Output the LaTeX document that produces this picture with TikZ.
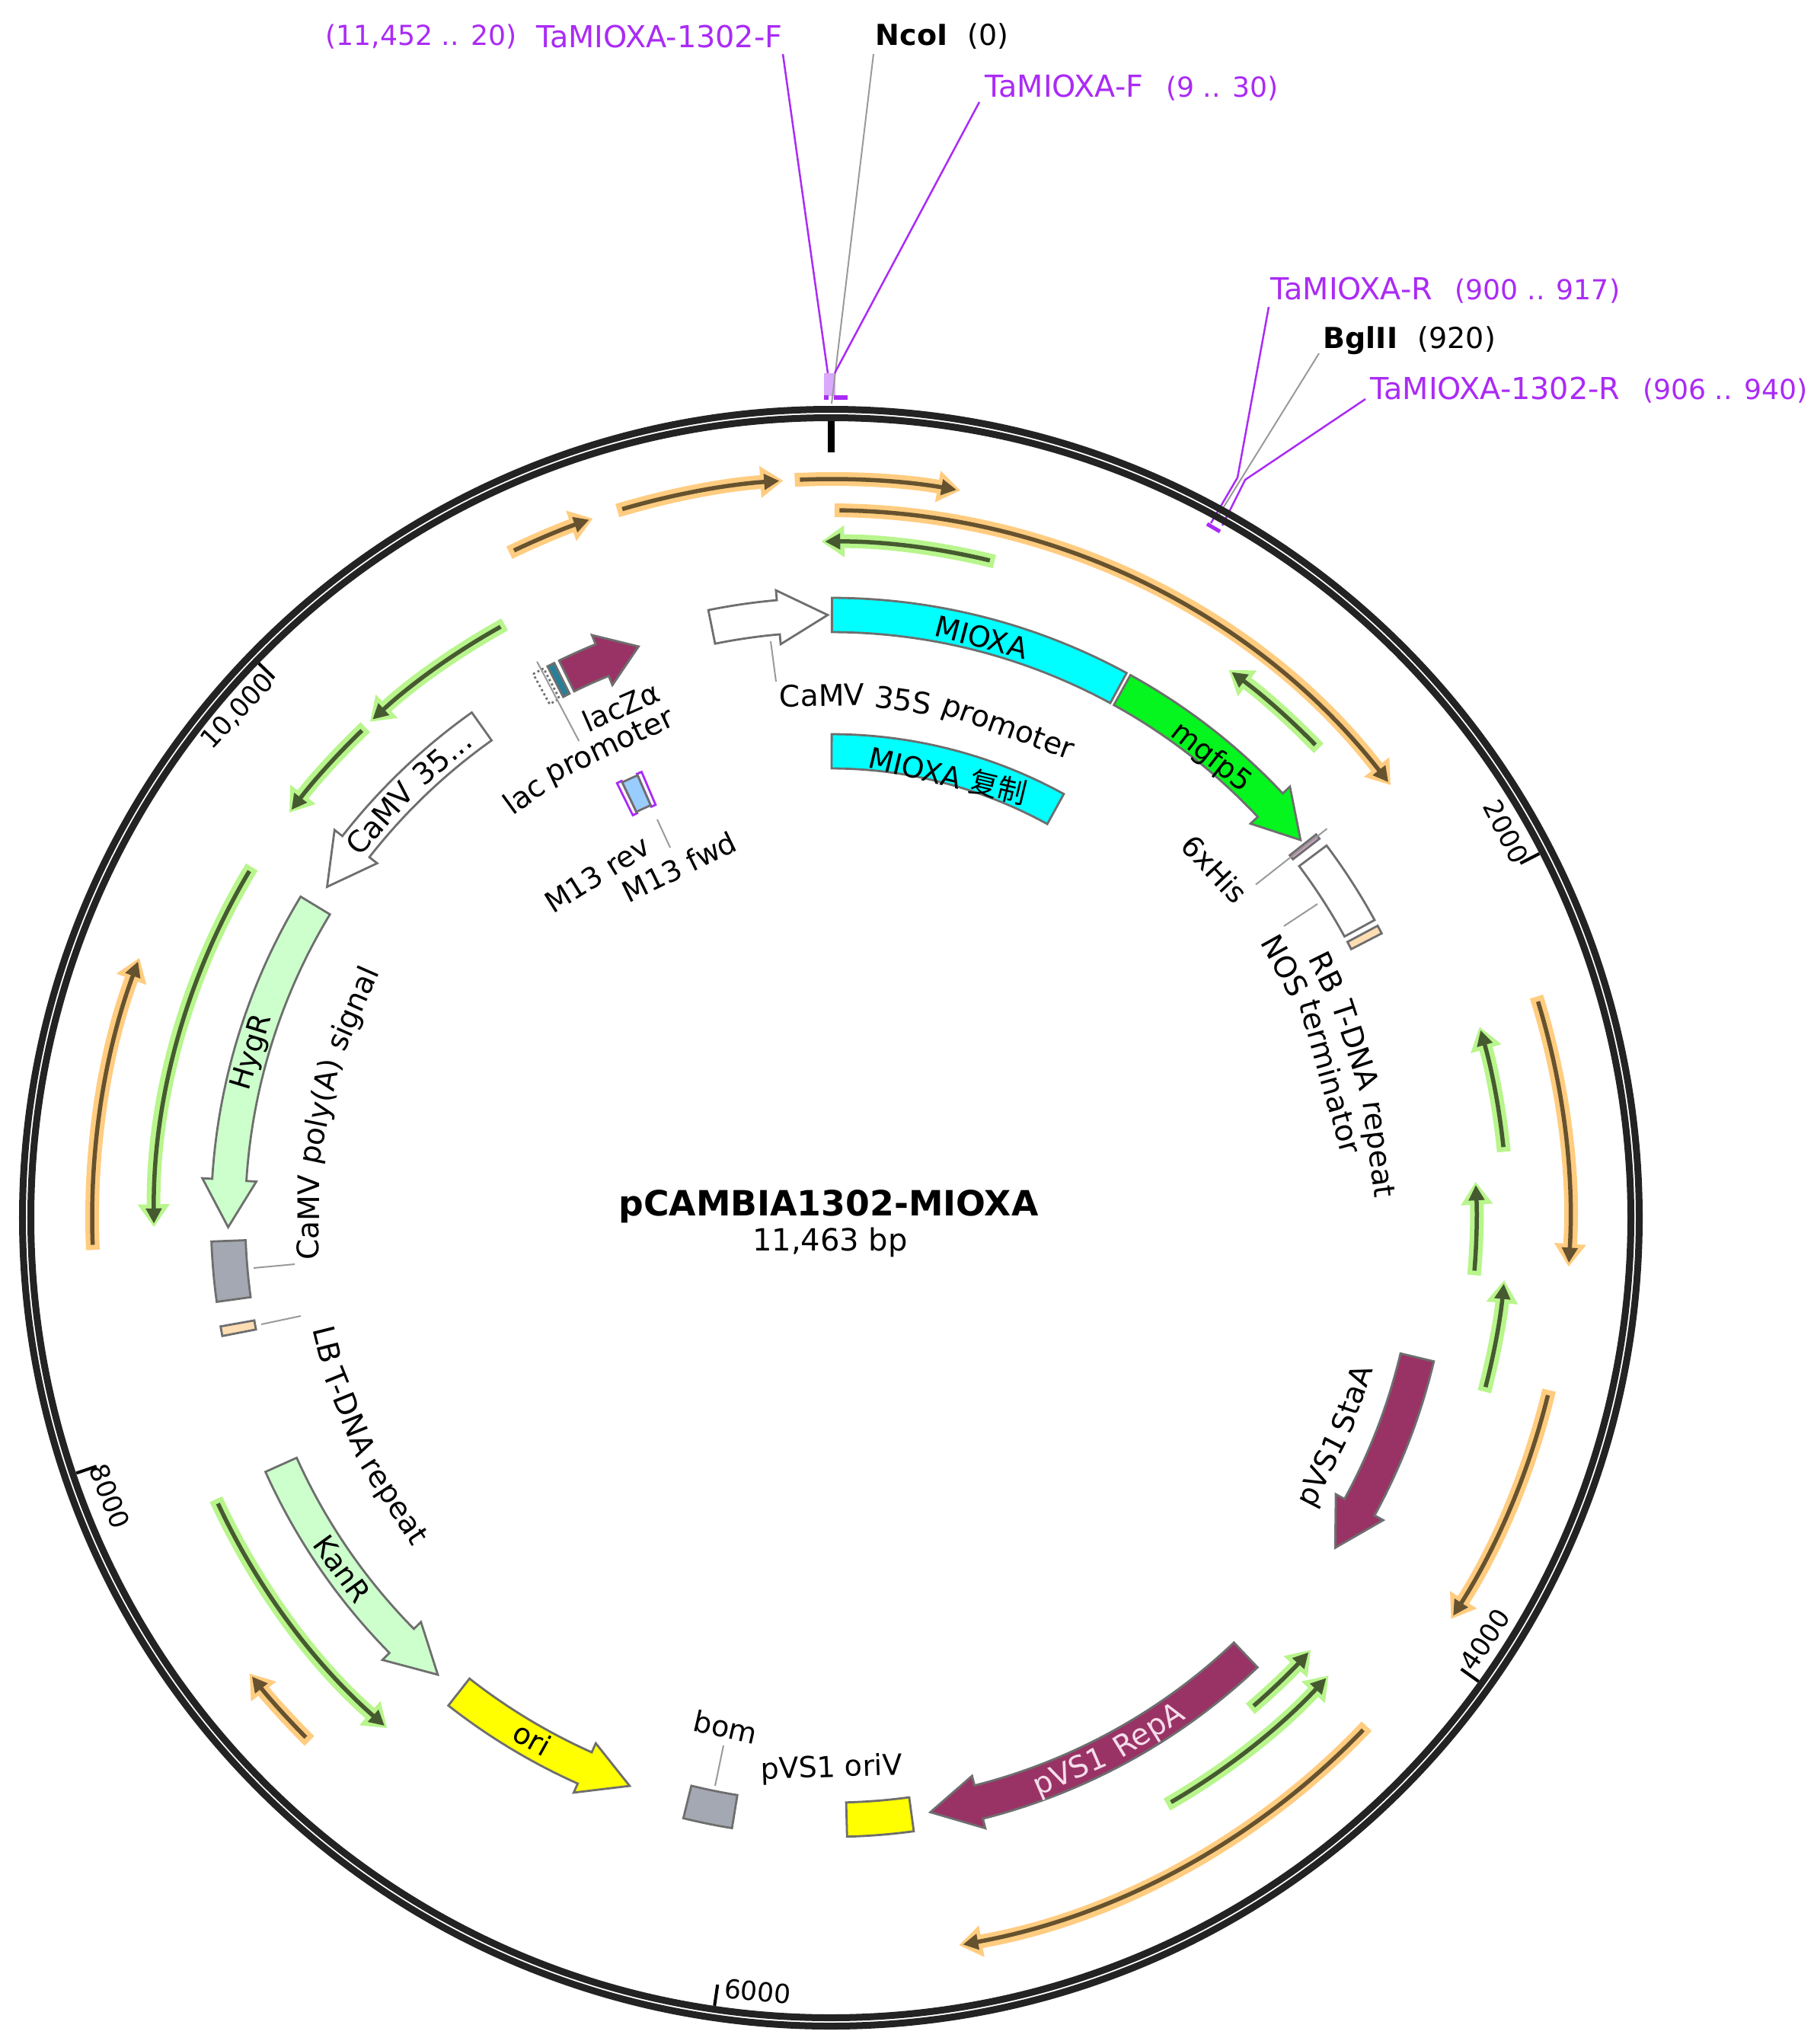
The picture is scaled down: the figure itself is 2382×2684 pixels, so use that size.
\documentclass[tikz,border=0pt]{standalone}
\usepackage{fontspec}
\setmainfont{DejaVu Sans}
\newfontfamily\cjkfont{Noto Sans CJK SC}
\usetikzlibrary{arrows.meta}
\definecolor{ringcol}{HTML}{232323}
\definecolor{primpur}{HTML}{AA2BF5}
\definecolor{primlight}{HTML}{D9A9FB}
\definecolor{leadcol}{HTML}{9A9A9A}
\definecolor{edgecol}{HTML}{6E6E6E}
\definecolor{cyancol}{HTML}{00FFFF}
\definecolor{gfpcol}{HTML}{05F51E}
\definecolor{maroon}{HTML}{993366}
\definecolor{mintcol}{HTML}{CCFFCC}
\definecolor{yelcol}{HTML}{FFFF00}
\definecolor{slatecol}{HTML}{A3A8B2}
\definecolor{tancol}{HTML}{FFDDB3}
\definecolor{m13col}{HTML}{99CCFF}
\definecolor{tealcol}{HTML}{26809A}
\definecolor{pinkcol}{HTML}{D9A0C8}
\definecolor{goldhal}{HTML}{FFCC80}
\definecolor{goldcor}{HTML}{66522E}
\definecolor{greenhal}{HTML}{B8F58C}
\definecolor{greencor}{HTML}{465A30}
\definecolor{repatxt}{HTML}{F5DDEA}
\def\lblfont{\fontsize{10.8}{13}\selectfont}
\def\arcfont{\fontsize{11.1}{13}\selectfont}
\def\namefont{\fontsize{11.3}{13}\selectfont}
\def\posfont{\fontsize{10.3}{13}\selectfont}
\def\featbox[#1](#2:#3)(#4:#5){\draw[#1] ({90-#4}:#3) arc ({90-#4}:{90-#5}:#3) -- ({90-#5}:#2) arc ({90-#5}:{90-#4}:#2) -- cycle;}
\def\featarrow[#1](#2:#3)(#4:#5:#6){\draw[#1] ({90-#4}:#3) arc ({90-#4}:{90-#5}:#3) -- ({90-#5}:{#3+13}) -- ({90-#6}:{(#2+#3)/2}) -- ({90-#5}:{#2-13}) -- ({90-#5}:#2) arc ({90-#5}:{90-#4}:#2) -- cycle;}
\def\orfarc[#1](#2)(#3:#4){\pgfmathsetmacro\orfsg{(#4>#3)?1:-1}\pgfmathsetmacro\orfa{90-#3-0.4*\orfsg}\pgfmathsetmacro\orfb{90-#4+0.3*\orfsg}
	\draw[orfhalo=#1] ({90-#3}:#2) arc ({90-#3}:{90-#4}:#2);
	\draw[orfcore=#1] (\orfa:#2) arc (\orfa:\orfb:#2);}
\def\wordcw[#1](#2)(#3:#4)#5{\node[lbl,font=\arcfont,anchor=base,rotate={0-#4},#1] (#2) at ({90-#4}:#3) {#5};}
\def\wordccw[#1](#2)(#3:#4)#5{\node[lbl,font=\arcfont,anchor=base,rotate={180-#4},#1] (#2) at ({90-#4}:#3) {#5};}
\tikzset{
	orfhalo/.style={draw=#1hal,line width=0.18cm,-{Triangle[length=0.3cm,width=0.4cm]}},
	orfcore/.style={draw=#1cor,line width=0.055cm,-{Triangle[length=0.2cm,width=0.2cm]}},
	feat/.style={draw=edgecol,line width=0.028cm,line join=miter,fill=#1},
	lbl/.style={font=\lblfont,inner sep=0pt},
	numlbl/.style={font=\fontsize{9.8}{12}\selectfont,inner sep=0pt},
	primlbl/.style={inner sep=0pt,text=primpur,anchor=west},
	sitelbl/.style={inner sep=0pt,anchor=west},
	leader/.style={draw=leadcol,line width=0.02cm},
	primline/.style={draw=primpur,line width=0.025cm},
	ticksty/.style={draw=black,line width=0.04cm}
}
\begin{document}
\begin{tikzpicture}[x=0.01cm,y=0.01cm]
			%%%%% START %%%%%
			\useasboundingbox (0,0) rectangle (2382,-2684);
			
			\node[primlbl,anchor=east,font=\posfont] (primFcoord) at (679,-48) {(11,452 .. 20)};
			\node[primlbl,anchor=east,font=\namefont] (primF) at (1028,-48) {TaMIOXA-1302-F};
			\node[sitelbl] (ncoI) at (1149,-48) {\lblfont\textbf{NcoI}\hspace{0.7em}(0)};
			\node[primlbl] (primFs) at (1293,-115) {\namefont TaMIOXA-F\hspace{0.75em}\posfont(9 .. 30)};
			\node[primlbl] (primR) at (1668,-381) {\namefont TaMIOXA-R\hspace{0.75em}\posfont(900 .. 917)};
			\node[sitelbl] (bglII) at (1737,-447) {\lblfont\textbf{BglII}\hspace{0.7em}(920)};
			\node[primlbl] (primRl) at (1799,-512) {\namefont TaMIOXA-1302-R\hspace{0.75em}\posfont(906 .. 940)};
			
			\coordinate (siteA) at (1087,-490);
			\coordinate (siteB) at (1092,-530);
			\coordinate (siteC) at (1096,-490);
			\coordinate (siteD) at (1625,-627);
			\coordinate (siteE) at (1590,-687);
			\coordinate (siteF) at (1598,-680);
			\coordinate (siteG) at (1635,-630);
			\coordinate (siteH) at (1605,-690);
			
			\fill[primlight] (1082,-490) rectangle (1097,-520);
			\fill[primpur] (1082,-519) rectangle (1088,-525);
			\fill[primpur] (1095,-519) rectangle (1113,-525);
			\draw[primline] (1028,-71) -- (siteA);
			\draw[leader] (1147,-71) -- (siteB);
			\draw[primline] (1286,-134) -- (siteC);
			\draw[primline] (1666,-403) -- (siteD) -- (siteE);
			\draw[leader] (1732,-464) -- (siteF);
			\draw[primline] (1793,-524) -- (siteG) -- (siteH);
			\draw[primpur,line width=0.05cm] (1585,-688) -- (1602,-698);
			
			\draw[ringcol,line width=0.09cm] (1091,-1599) circle (1061.5);
			\draw[ringcol,line width=0.09cm] (1091,-1599) circle (1050.5);
			
			\begin{scope}[shift={(1091,-1599)}]
				\draw[black,line width=0.09cm] (90:1005) -- (90:1046);
				\foreach \tickb in {62.8,125.6,-171.6,-108.7,-45.9}
					\draw[ticksty] ({90-\tickb}:1018) -- ({90-\tickb}:1046);
				
				\orfarc[gold](970)(-2.8:10.1)
				\orfarc[gold](970)(-16.8:-3.7)
				\orfarc[gold](970)(-25.8:-18.8)
				\orfarc[gold](929)(0.3:52.3)
				\orfarc[green](888)(14:-0.8)
				\orfarc[green](889)(46.1:36)
				\orfarc[gold](971)(72.6:93.8)
				\orfarc[green](888)(84.4:73.6)
				\orfarc[green](848)(95.1:86.8)
				\orfarc[green](888)(104.9:95.3)
				\orfarc[gold](970)(103.5:122.9)
				\orfarc[green](848)(139.5:132)
				\orfarc[green](888)(150.2:132.6)
				\orfarc[gold](970)(133.5:170)
				\orfarc[green](889)(-28.8:-42.9)
				\orfarc[green](888)(-43.5:-53.2)
				\orfarc[green](889)(-58.8:-90.8)
				\orfarc[gold](970)(-92.5:-69.4)
				\orfarc[green](888)(-114.6:-139)
				\orfarc[gold](970)(-135.1:-128.1)
				
				\featbox[feat=cyancol](769:814)(0.1:28.5)
				\featarrow[feat=gfpcol](769:814)(28.9:46.8:51.2)
				\featbox[feat=cyancol](590:635)(0.1:28.8)
				\featarrow[feat=white](769:814)(-11.4:-5:-0.3)
				\featarrow[feat=maroon](769:814)(-26:-22.3:-18.6)
				\featbox[feat=tealcol](769:814)(-27.2:-26.5)
				\featbox[feat=white,densely dotted](769:814)(-28.7:-27.6)
				\featbox[feat=white,draw=primpur](589:636)(-26.2:-25.6)
				\featbox[feat=white,draw=primpur](589:636)(-23.6:-23)
				\featbox[feat=m13col](591:634)(-25.6:-23.6)
				\featbox[feat=pinkcol](768:812)(51.7:52.2)
				\featbox[feat=white](769:814)(53.1:61.3)
				\featbox[feat=tancol](769:814)(61.9:62.7)
				\featarrow[feat=white](769:814)(-35.4:-52:-56.7)
				\featarrow[feat=mintcol](769:814)(-58.8:-86.4:-90.9)
				\featbox[feat=slatecol](769:814)(-92.2:-97.8)
				\featbox[feat=tancol](769:814)(-100.1:-101)
				\featarrow[feat=mintcol](769:814)(-114.2:-134.6:-139.3)
				\featarrow[feat=yelcol](769:814)(-141.9:-155.9:-160.5)
				\featbox[feat=slatecol](768:812)(-166.2:-170.8)
				\featbox[feat=yelcol](768:813)(172.3:178.5)
				\featarrow[feat=maroon](769:814)(136.5:165.8:170.5)
				\featarrow[feat=maroon](769:814)(103.4:118.7:123.2)
				
				\coordinate (lacA) at ({90+27.85}:826);
				\coordinate (lacB) at ({90+27.85}:708);
				\coordinate (hisA) at ({90-51.9}:828);
				\coordinate (hisB) at ({90-51.9}:709);
				\draw[leader] (lacA) -- (lacB);
				\draw[leader] (hisA) -- (hisB);
				
				\wordcw[](camvWa)(672:-0.97){CaMV}
				\wordcw[](camvWb)(672:7.97){35S}
				\wordcw[](camvWc)(672:19.89){promoter}
				\wordcw[](lacWa)(672:-35.98){lac}
				\wordcw[](lacWb)(672:-25.13){promoter}
				\wordcw[](rbWa)(712:63.66){RB}
				\wordcw[](rbWb)(712:71.79){T-DNA}
				\wordcw[](rbWc)(712:82.88){repeat}
				\wordcw[](nosWa)(668:60.95){NOS}
				\wordcw[](nosWb)(668:74.25){terminator}
				\wordcw[](polyWa)(672:-89.97){CaMV}
				\wordcw[](polyWb)(672:-78.26){poly(A)}
				\wordcw[](polyWc)(672:-66.38){signal}
				\wordccw[](lbWa)(696:-104.13){LB}
				\wordccw[](lbWb)(696:-111.99){T-DNA}
				\wordccw[](lbWc)(696:-123){repeat}
				\wordcw[](camvBa)(777:-48.47){CaMV}
				\wordcw[](camvBb)(777:-40.2){35...}
				\wordccw[](staWa)(738:117.24){pVS1}
				\wordccw[](staWb)(738:109.18){StaA}
				\wordccw[text=repatxt](repWa)(805:156.66){pVS1}
				\wordccw[text=repatxt](repWb)(805:148.2){RepA}
			\end{scope}
			
			\coordinate (camvA) at (1012,-842);
			\coordinate (camvB) at (1019,-895);
			\coordinate (m13A) at (863,-1076);
			\coordinate (m13B) at (880,-1113);
			\coordinate (nosA) at (1730,-1187);
			\coordinate (nosB) at (1686,-1216);
			\coordinate (polyA) at (333,-1665);
			\coordinate (polyB) at (387,-1660);
			\coordinate (lbA) at (343,-1739);
			\coordinate (lbB) at (395,-1728);
			\coordinate (bomA) at (950,-2292);
			\coordinate (bomB) at (939,-2345);
			\draw[leader] (camvA) -- (camvB);
			\draw[leader] (m13A) -- (m13B);
			\draw[leader] (nosA) -- (nosB);
			\draw[leader] (polyA) -- (polyB);
			\draw[leader] (lbA) -- (lbB);
			\draw[leader] (bomA) -- (bomB);
			
			\node[lbl,rotate=-14.6] (mioxaA) at (1289,-837) {MIOXA};
			\node[lbl,rotate=-13.5] (mioxaB) at (1245,-1018) {MIOXA {\cjkfont 复制}};
			\node[lbl,rotate=-38] (mgfpLbl) at (1590,-995) {mgfp5};
			\node[lbl,rotate=73] (hygLbl) at (332,-1382) {HygR};
			\node[lbl,rotate=-54] (kanLbl) at (449,-2060) {KanR};
			\node[lbl,rotate=-29] (oriLbl) at (699,-2283) {ori};
			\node[lbl,rotate=23.7] (lacZLbl) at (815,-928) {lacZα};
			\node[lbl,rotate=32] (m13rev) at (784,-1148) {M13 rev};
			\node[lbl,rotate=26] (m13fwd) at (892,-1138) {M13 fwd};
			\node[lbl,rotate=-47] (hisLbl) at (1595,-1141) {6xHis};
			\node[lbl,rotate=-13] (bomLbl) at (953,-2268) {bom};
			\node[lbl,rotate=2] (oriVLbl) at (1092,-2323) {pVS1 oriV};
			
			\node[numlbl,rotate=-62.8] (numB) at (1978,-1092) {2000};
			\node[numlbl,rotate=56] (numD) at (1950,-2153) {4000};
			\node[numlbl,rotate=-5.4] (numF) at (995,-2615) {6000};
			\node[numlbl,rotate=-69] (numH) at (144,-1965) {8000};
			\node[numlbl,rotate=47] (numJ) at (312,-934) {10,000};
			
			\node[inner sep=0pt,font=\fontsize{13}{15}\selectfont\bfseries] (mapName) at (1088,-1584) {pCAMBIA1302-MIOXA};
			\node[inner sep=0pt,font=\fontsize{11.4}{14}\selectfont] (mapSize) at (1090,-1631) {11,463 bp};
			
			%%%%% END %%%%%
		\end{tikzpicture}
\end{document}
